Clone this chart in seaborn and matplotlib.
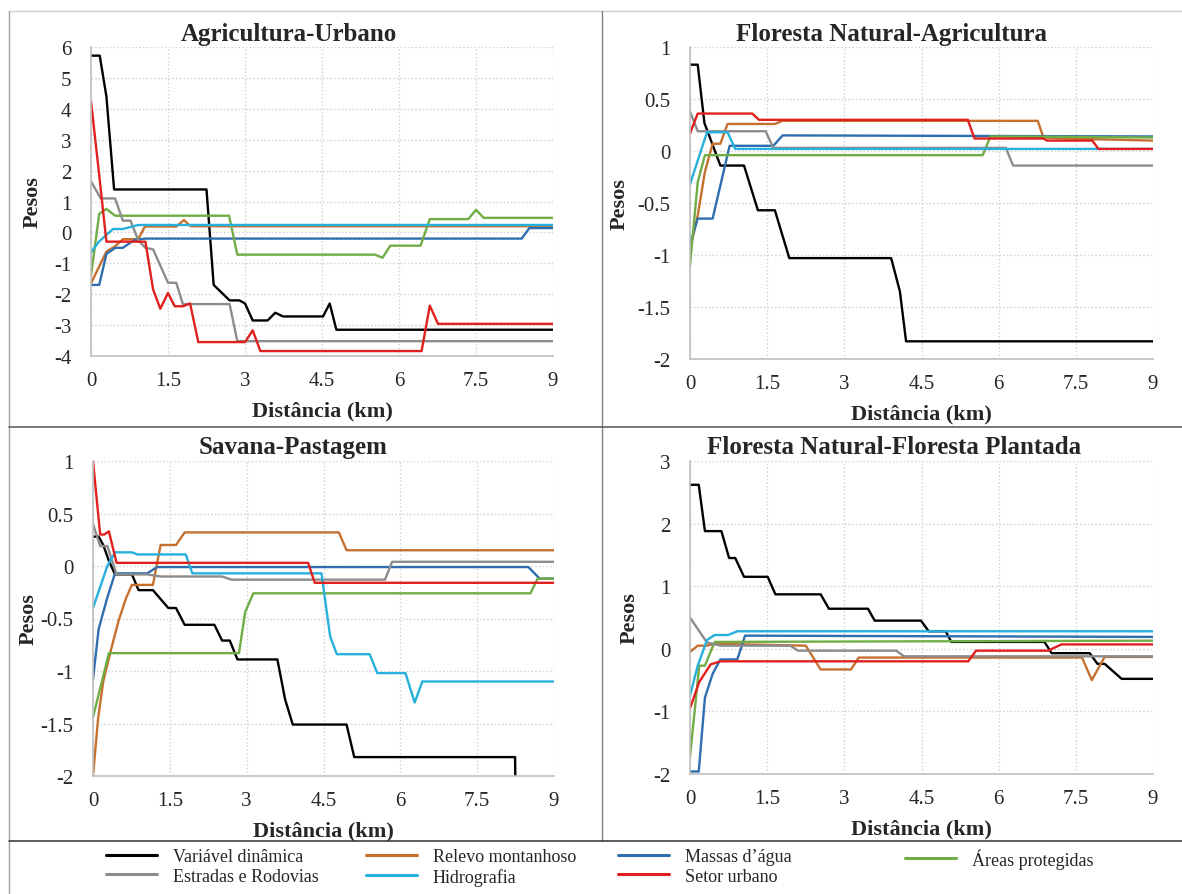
"""
Pesos de evidência por distância - quatro transições
"""

import numpy as np
import pandas as pd
import matplotlib
matplotlib.use('Agg')
import matplotlib.pyplot as plt
import matplotlib.ticker as ticker
from matplotlib.lines import Line2D
import seaborn as sns

sns.set_theme(style='white')
plt.rcParams['font.family'] = ['Liberation Serif', 'DejaVu Serif']
plt.rcParams['axes.unicode_minus'] = False

W, H = 1182, 895

VARS = ['Variável dinâmica', 'Relevo montanhoso', 'Massas d’água', 'Áreas protegidas',
        'Estradas e Rodovias', 'Hidrografia', 'Setor urbano']
COLORS = ['#000000', '#C5702E', '#2F6EAE', '#70AD47', '#8C8C8C', '#27B0DC', '#E0201E']

# ---------------- Agricultura-Urbano ----------------
au_din_km = [0, 0.17, 0.3, 0.45, 2.25, 2.39, 2.7, 2.89, 3.0, 3.15, 3.44, 3.59, 3.74, 4.52, 4.65, 4.78, 9]
au_din_w = [5.72, 5.72, 4.4, 1.39, 1.39, -1.7, -2.2, -2.2, -2.3, -2.85, -2.85, -2.6, -2.72, -2.72, -2.3, -3.15, -3.15]
au_rel_km = [0, 0.3, 0.47, 0.62, 0.92, 1.05, 1.66, 1.81, 1.94, 9]
au_rel_w = [-1.65, -0.62, -0.45, -0.22, -0.22, 0.19, 0.19, 0.4, 0.2, 0.2]
au_mas_km = [0, 0.16, 0.3, 0.47, 0.62, 0.84, 1.06, 8.39, 8.54, 9]
au_mas_w = [-1.7, -1.7, -0.7, -0.5, -0.5, -0.25, -0.2, -0.2, 0.14, 0.14]
au_are_km = [0, 0.16, 0.3, 0.47, 2.69, 2.85, 5.53, 5.68, 5.83, 6.42, 6.6, 7.35, 7.5, 7.65, 9]
au_are_w = [-1.4, 0.6, 0.76, 0.54, 0.54, -0.72, -0.72, -0.82, -0.43, -0.43, 0.43, 0.43, 0.73, 0.47, 0.47]
au_est_km = [0, 0.19, 0.47, 0.62, 0.77, 0.92, 1.06, 1.21, 1.5, 1.66, 1.79, 2.7, 2.85, 9]
au_est_w = [1.65, 1.1, 1.1, 0.38, 0.38, -0.25, -0.5, -0.55, -1.63, -1.63, -2.32, -2.32, -3.52, -3.52]
au_hid_km = [0, 0.16, 0.43, 0.62, 0.92, 9]
au_hid_w = [-0.65, -0.29, 0.11, 0.11, 0.24, 0.24]
au_set_km = [0, 0.17, 0.3, 1.06, 1.21, 1.35, 1.5, 1.63, 1.79, 1.93, 2.09, 3.0, 3.15, 3.3, 6.44, 6.6, 6.76, 9]
au_set_w = [4.25, 1.7, -0.3, -0.3, -1.85, -2.47, -1.96, -2.39, -2.39, -2.3, -3.55, -3.55, -3.17, -3.84, -3.84, -2.37, -2.96, -2.96]

# ---------------- Floresta Natural-Agricultura ----------------
fa_din_km = [0, 0.15, 0.28, 0.59, 1.05, 1.32, 1.65, 1.93, 3.91, 4.08, 4.2, 9]
fa_din_w = [0.83, 0.83, 0.27, -0.14, -0.14, -0.57, -0.57, -1.03, -1.03, -1.35, -1.83, -1.83]
fa_rel_km = [0, 0.15, 0.29, 0.44, 0.59, 0.73, 1.65, 1.8, 6.76, 6.87, 7.3, 9]
fa_rel_w = [-0.95, -0.62, -0.2, 0.07, 0.07, 0.26, 0.26, 0.29, 0.29, 0.13, 0.12, 0.1]
fa_mas_km = [0, 0.15, 0.44, 0.77, 1.62, 1.8, 9]
fa_mas_w = [-0.9, -0.65, -0.65, 0.05, 0.05, 0.15, 0.14]
fa_are_km = [0, 0.15, 0.29, 5.69, 5.84, 9]
fa_are_w = [-1.1, -0.3, -0.04, -0.04, 0.14, 0.13]
fa_est_km = [0, 0.15, 1.47, 1.62, 6.14, 6.28, 9]
fa_est_w = [0.38, 0.19, 0.19, 0.03, 0.03, -0.14, -0.14]
fa_hid_km = [0, 0.33, 0.73, 0.88, 9]
fa_hid_w = [-0.32, 0.18, 0.18, 0.02, 0.02]
fa_set_km = [0, 0.15, 1.21, 1.34, 5.4, 5.53, 6.87, 6.94, 7.82, 7.94, 9]
fa_set_w = [0.17, 0.36, 0.36, 0.3, 0.3, 0.12, 0.12, 0.1, 0.1, 0.02, 0.02]

# ---------------- Savana-Pastagem ----------------
sp_din_km = [0, 0.11, 0.2, 0.31, 0.43, 0.76, 0.89, 1.17, 1.47, 1.62, 1.79, 2.37, 2.52, 2.67, 2.82,
             3.6, 3.75, 3.9, 4.95, 5.1, 8.24, 8.25]
sp_din_w = [0.28, 0.28, 0.2, 0.05, -0.08, -0.08, -0.23, -0.23, -0.4, -0.4, -0.56, -0.56, -0.71, -0.71, -0.89,
            -0.89, -1.27, -1.51, -1.51, -1.82, -1.82, -2.2]
sp_rel_km = [0, 0.1, 0.2, 0.35, 0.5, 0.65, 0.76, 1.17, 1.32, 1.62, 1.79, 4.8, 4.95, 9]
sp_rel_w = [-2.0, -1.45, -1.1, -0.8, -0.52, -0.3, -0.18, -0.18, 0.2, 0.2, 0.32, 0.32, 0.15, 0.15]
sp_mas_km = [0, 0.11, 0.28, 0.43, 1.06, 1.25, 8.5, 8.72, 9]
sp_mas_w = [-1.08, -0.6, -0.3, -0.07, -0.07, -0.01, -0.01, -0.12, -0.12]
sp_are_km = [0, 0.31, 2.85, 2.97, 3.13, 8.54, 8.68, 9]
sp_are_w = [-1.44, -0.83, -0.83, -0.44, -0.26, -0.26, -0.12, -0.12]
sp_est_km = [0, 0.14, 0.28, 0.46, 1.06, 1.32, 2.52, 2.7, 5.7, 5.84, 9]
sp_est_w = [0.4, 0.19, 0.19, -0.08, -0.08, -0.1, -0.1, -0.13, -0.13, 0.04, 0.04]
sp_hid_km = [0, 0.28, 0.43, 0.76, 0.87, 1.81, 1.94, 4.46, 4.63, 4.76, 5.4, 5.55, 6.1, 6.28, 6.43, 9]
sp_hid_w = [-0.4, 0.0, 0.13, 0.13, 0.11, 0.11, -0.07, -0.07, -0.67, -0.84, -0.84, -1.02, -1.02, -1.3, -1.1, -1.1]
sp_set_km = [0, 0.14, 0.22, 0.31, 0.46, 4.2, 4.33, 9]
sp_set_w = [1.0, 0.3, 0.3, 0.33, 0.03, 0.03, -0.16, -0.16]

# ---------------- Floresta Natural-Floresta Plantada ----------------
ff_din_km = [0, 0.17, 0.29, 0.61, 0.76, 0.88, 1.05, 1.51, 1.66, 2.54, 2.7, 3.46, 3.59, 4.49, 4.64, 4.97,
             5.08, 6.89, 7.03, 7.77, 7.92, 8.06, 8.39, 9]
ff_din_w = [2.62, 2.62, 1.88, 1.88, 1.45, 1.45, 1.15, 1.15, 0.87, 0.87, 0.64, 0.64, 0.45, 0.45, 0.28, 0.28,
            0.11, 0.11, -0.07, -0.07, -0.24, -0.24, -0.48, -0.48]
ff_rel_km = [0, 0.15, 0.33, 0.48, 2.25, 2.54, 3.13, 3.28, 7.62, 7.81, 8.06, 9]
ff_rel_w = [-0.05, 0.05, 0.05, 0.08, 0.05, -0.33, -0.33, -0.14, -0.14, -0.5, -0.13, -0.13]
ff_mas_km = [0, 0.17, 0.29, 0.44, 0.59, 0.92, 1.07, 9]
ff_mas_w = [-1.96, -1.96, -0.78, -0.4, -0.17, -0.17, 0.21, 0.19]
ff_are_km = [0, 0.18, 0.29, 0.48, 9]
ff_are_w = [-1.72, -0.27, -0.27, 0.11, 0.13]
ff_est_km = [0, 0.33, 0.6, 1.95, 2.1, 4.01, 4.16, 9]
ff_est_w = [0.5, 0.1, 0.05, 0.05, -0.03, -0.03, -0.12, -0.12]
ff_hid_km = [0, 0.15, 0.33, 0.48, 0.74, 0.92, 9]
ff_hid_w = [-0.75, -0.27, 0.14, 0.22, 0.22, 0.28, 0.28]
ff_set_km = [0, 0.18, 0.4, 0.59, 5.41, 5.56, 6.96, 7.22, 9]
ff_set_w = [-0.95, -0.53, -0.25, -0.2, -0.2, -0.03, -0.03, 0.07, 0.07]

X_TICKS = [0, 1.5, 3, 4.5, 6, 7.5, 9]


def build_df(series):
    rows = []
    for var, (km, w) in zip(VARS, series):
        for i, (d, p) in enumerate(zip(km, w)):
            rows.append({'var': var, 'dist': d, 'peso': p, 'ordem': i})
    return pd.DataFrame(rows)


PANELS = [
    # titulo, series, ylim, yticks, caixa (px), titulo x, ylabel x
    ('Agricultura-Urbano',
     [(au_din_km, au_din_w), (au_rel_km, au_rel_w), (au_mas_km, au_mas_w), (au_are_km, au_are_w),
      (au_est_km, au_est_w), (au_hid_km, au_hid_w), (au_set_km, au_set_w)],
     (-4, 6), np.arange(-4, 7, 1), (91, 48, 553, 357), 289, 33),
    ('Floresta Natural-Agricultura',
     [(fa_din_km, fa_din_w), (fa_rel_km, fa_rel_w), (fa_mas_km, fa_mas_w), (fa_are_km, fa_are_w),
      (fa_est_km, fa_est_w), (fa_hid_km, fa_hid_w), (fa_set_km, fa_set_w)],
     (-2, 1), np.arange(-2, 1.01, 0.5), (690, 48, 1153, 360), 891, 620),
    ('Savana-Pastagem',
     [(sp_din_km, sp_din_w), (sp_rel_km, sp_rel_w), (sp_mas_km, sp_mas_w), (sp_are_km, sp_are_w),
      (sp_est_km, sp_est_w), (sp_hid_km, sp_hid_w), (sp_set_km, sp_set_w)],
     (-2, 1), np.arange(-2, 1.01, 0.5), (93, 462, 554, 777), 293, 29),
    ('Floresta Natural-Floresta Plantada',
     [(ff_din_km, ff_din_w), (ff_rel_km, ff_rel_w), (ff_mas_km, ff_mas_w), (ff_are_km, ff_are_w),
      (ff_est_km, ff_est_w), (ff_hid_km, ff_hid_w), (ff_set_km, ff_set_w)],
     (-2, 3), np.arange(-2, 3.01, 1), (690, 462, 1153, 775), 894, 630),
]


def fig_line(fig, x0, y0, x1, y1, color, lw=1.0):
    fig.add_artist(Line2D([x0 / W, x1 / W], [1 - y0 / H, 1 - y1 / H],
                          transform=fig.transFigure, color=color, lw=lw))


def main():
    fig = plt.figure(figsize=(W / 100, H / 100), dpi=100)
    fmt = ticker.FuncFormatter(lambda v, p: f'{v:g}')

    for title, series, ylim, yticks, box, tx, lx in PANELS:
        x0, y0, x1, y1 = box
        ax = fig.add_axes([x0 / W, 1 - y1 / H, (x1 - x0) / W, (y1 - y0) / H])
        df = build_df(series)
        sns.lineplot(data=df, x='dist', y='peso', hue='var', hue_order=VARS, palette=COLORS,
                     estimator=None, sort=False, units='var', legend=False, lw=1.7, ax=ax)
        ax.set_xlim(0, 9)
        ax.set_ylim(*ylim)
        ax.set_xticks(X_TICKS)
        ax.set_yticks(yticks)
        ax.xaxis.set_major_formatter(fmt)
        ax.yaxis.set_major_formatter(fmt)
        ax.tick_params(axis='x', labelsize=15, length=0, pad=11)
        ax.tick_params(axis='y', labelsize=15, length=0, pad=14)
        ax.grid(True, ls=':', color='#CFCFCF', lw=1.0)
        for s in ['top', 'right']:
            ax.spines[s].set_visible(False)
        for s in ['left', 'bottom']:
            ax.spines[s].set_color('#BFBFBF')
            ax.spines[s].set_linewidth(1.2)
        ax.set_xlabel('')
        ax.set_ylabel('')

        fig.text(tx / W, 1 - (y0 - 14) / H, title, ha='center', va='center',
                 fontsize=18, fontweight='bold')
        fig.text(lx / W, 1 - ((y0 + y1) / 2) / H, 'Pesos', ha='center', va='center',
                 rotation=90, fontsize=16, fontweight='bold')
        fig.text(((x0 + x1) / 2) / W, 1 - (y1 + 54) / H, 'Distância (km)', ha='center', va='center',
                 fontsize=16, fontweight='bold')

    # molduras
    fig_line(fig, 9, 12, W, 12, '#D0D0D0')
    fig_line(fig, 9, 12, 9, H, '#A0A0A0')
    fig_line(fig, 602, 12, 602, 842, '#808080')
    fig_line(fig, 9, 428, W, 428, '#606060', lw=1.2)
    fig_line(fig, 9, 842, W, 842, '#404040', lw=1.2)

    # legenda: quatro colunas em posições fixas, preenchidas por linha
    handles = [Line2D([], [], color=c, lw=2.2) for c in COLORS]
    columns = [[0, 4], [1, 5], [2, 6], [3]]
    col_x = [106, 366, 618, 905]
    for idx, cx in zip(columns, col_x):
        fig.legend([handles[i] for i in idx], [VARS[i] for i in idx],
                   loc='upper left', bbox_to_anchor=(cx / W, 1 - 849 / H), frameon=False,
                   fontsize=13, handlelength=2.8, handletextpad=0.9, labelspacing=0.15,
                   borderpad=0, borderaxespad=0)

    fig.savefig('out.png', dpi=100)
    plt.close(fig)


if __name__ == '__main__':
    main()
